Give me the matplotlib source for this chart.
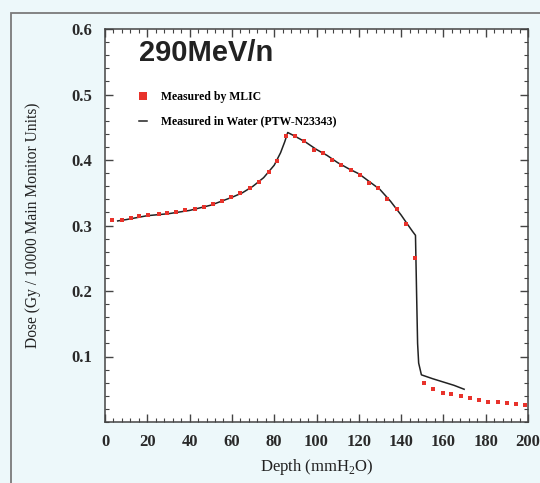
import numpy as np
import matplotlib
matplotlib.use("Agg")
import matplotlib.pyplot as plt
from matplotlib.patches import Rectangle
from matplotlib.lines import Line2D
from matplotlib.ticker import MultipleLocator

# measured by MLIC (red dots)
mlic_depth = [3.2, 7.9, 12.2, 16.3, 20.5, 25.3, 29.5, 33.6, 37.9, 42.7,
              46.6, 51.0, 55.3, 59.7, 64.0, 68.4, 72.7, 77.4, 81.4, 85.8,
              90.0, 94.3, 98.7, 103.2, 107.4, 111.8, 116.1, 120.4, 124.8, 129.2,
              133.5, 137.9, 142.2, 146.4, 150.6, 155.1, 159.6, 163.8, 168.2, 172.5,
              176.9, 181.2, 185.6, 190.0, 194.3, 198.5]
mlic_dose = [0.308, 0.309, 0.312, 0.315, 0.316, 0.317, 0.319, 0.321, 0.323, 0.325,
             0.328, 0.333, 0.338, 0.344, 0.349, 0.358, 0.367, 0.382, 0.399, 0.436,
             0.436, 0.429, 0.416, 0.411, 0.400, 0.392, 0.384, 0.377, 0.365, 0.357,
             0.340, 0.325, 0.303, 0.250, 0.060, 0.050, 0.045, 0.042, 0.039, 0.036,
             0.033, 0.031, 0.030, 0.029, 0.027, 0.026]

# measured in water (PTW-N23343), black line
water_depth = [6, 10, 20, 30, 40, 50, 60, 65, 70, 75, 80, 83, 85, 86.4,
               90, 95, 100, 105, 110, 115, 120, 125, 130, 135, 140, 143, 145.4,
               146.8, 147.3, 147.8, 148.3, 149.6, 155, 160, 165, 169.8]
water_dose = [0.307, 0.309, 0.315, 0.318, 0.323, 0.331, 0.343, 0.350, 0.360, 0.373,
              0.392, 0.411, 0.428, 0.442, 0.436, 0.427, 0.416, 0.407, 0.396, 0.387,
              0.379, 0.367, 0.355, 0.337, 0.316, 0.302, 0.291, 0.285, 0.200, 0.120,
              0.090, 0.072, 0.066, 0.061, 0.056, 0.050]

bg = '#edf8fa'
serif = ['Liberation Serif', 'DejaVu Serif']
plt.rcParams['mathtext.fontset'] = 'custom'
plt.rcParams['mathtext.rm'] = 'Liberation Serif'

fig = plt.figure(figsize=(5.4, 4.83), dpi=100, facecolor=bg)
# outer frame of the scanned figure
fig.patches.append(Rectangle((11 / 540, -0.1), 1.2, (483 - 13) / 483 + 0.1,
                             transform=fig.transFigure, fill=False,
                             edgecolor='#7a7a7a', linewidth=1.3))

ax = fig.add_axes([105 / 540, (483 - 422) / 483, 423 / 540, 393 / 483])
ax.set_facecolor('white')

ax.plot(water_depth, water_dose, color='#222222', lw=1.1, zorder=2)
ax.plot(mlic_depth, mlic_dose, ls='none', marker='s', ms=3.0, mew=0,
        color='#e8322b', zorder=3)

ax.set_xlim(0, 200)
ax.set_ylim(0, 0.6)
ax.xaxis.set_major_locator(MultipleLocator(20))
ax.xaxis.set_minor_locator(MultipleLocator(4))
ax.yaxis.set_major_locator(MultipleLocator(0.1))
ax.yaxis.set_minor_locator(MultipleLocator(0.02))
ax.tick_params(which='both', direction='in', top=True, right=True, color='#444444')
ax.tick_params(which='major', length=6, width=1, pad=9)
ax.tick_params(which='minor', length=3, width=0.8)
ax.set_yticks([0.1, 0.2, 0.3, 0.4, 0.5, 0.6])
ax.set_yticklabels(['0.1', '0.2', '0.3', '0.4', '0.5', '0.6'])
for lab in ax.get_xticklabels() + ax.get_yticklabels():
    lab.set_fontfamily(serif)
    lab.set_fontweight('bold')
    lab.set_fontsize(12)
    lab.set_color('#2a2a2a')
for s in ax.spines.values():
    s.set_color('#444444')
    s.set_linewidth(1.1)

ax.set_xlabel('Depth (mmH$_2$O)', family=serif, fontsize=12, color='#222222', labelpad=5)
ax.set_ylabel('Dose (Gy / 10000 Main Monitor Units)', family=serif, fontsize=11.2,
              color='#222222', labelpad=22)

ax.text(0.08, 0.975, '290MeV/n', transform=ax.transAxes, family='Liberation Sans',
        fontweight='bold', fontsize=21, color='#222222', va='top', ha='left')

handles = [Line2D([], [], ls='none', marker='s', ms=5.5, mew=0, color='#e8322b'),
           Line2D([], [], color='#222222', lw=1.1)]
leg = ax.legend(handles, ['Measured by MLIC', 'Measured in Water (PTW-N23343)'],
                loc='upper left', bbox_to_anchor=(0.055, 0.87), frameon=False,
                handlelength=0.7, handletextpad=1.2, labelspacing=1.1,
                prop={'family': serif, 'weight': 'bold', 'size': 8.5})

fig.savefig('out.png', dpi=100, facecolor=bg)
